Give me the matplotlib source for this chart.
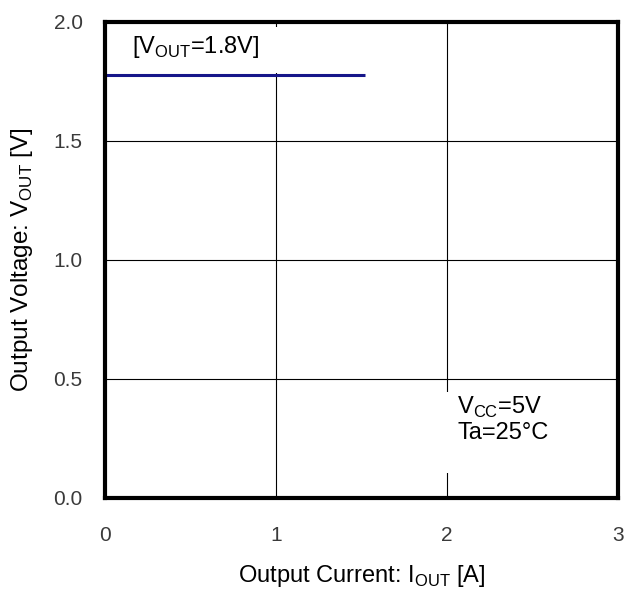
# output voltage vs output current chart

import numpy as np
import matplotlib.pyplot as plt
from matplotlib.patches import Rectangle

# data
iout = [0.0, 1.52]       # output current [A]
vout = [1.777, 1.777]    # output voltage [V]
xticks = [0, 1, 2, 3]
yticks = [0.0, 0.5, 1.0, 1.5, 2.0]
ytick_labels = ['0.0', '0.5', '1.0', '1.5', '2.0']

plt.rcParams['font.family'] = ['Liberation Sans', 'DejaVu Sans']
plt.rcParams['mathtext.fontset'] = 'custom'
plt.rcParams['mathtext.rm'] = 'Liberation Sans'

fig = plt.figure(figsize=(6.24, 5.92), dpi=100)
ax = fig.add_axes([0.168, 0.159, 0.822, 0.804])

ax.set_xlim(0, 3)
ax.set_ylim(0, 2)
ax.set_xticks(xticks)
ax.set_yticks(yticks)
ax.set_yticklabels(ytick_labels)
ax.tick_params(length=0, labelsize=15, labelcolor='#3a3a3a')
ax.tick_params(axis='x', pad=20)
ax.tick_params(axis='y', pad=16)

ax.grid(True, color='black', lw=0.8, zorder=1)
ax.set_axisbelow(True)
for sp in ax.spines.values():
    sp.set_linewidth(3)
    sp.set_zorder(5)

# white boxes behind the annotations
ax.add_patch(Rectangle((0.05, 1.785), 1.1, 0.195, facecolor='white', edgecolor='none', zorder=2))
ax.add_patch(Rectangle((1.95, 0.105), 0.75, 0.34, facecolor='white', edgecolor='none', zorder=2))

ax.plot(iout, vout, color='#16168a', lw=2.2, zorder=3, solid_capstyle='butt')

ax.text(0.158, 1.895, r'[V$_{\mathregular{OUT}}$=1.8V]', fontsize=17, va='center', zorder=4)
ax.text(2.06, 0.33, r'V$_{\mathregular{CC}}$=5V' + '\nTa=25°C', fontsize=17,
        va='center', linespacing=1.15, zorder=4)

ax.set_xlabel(r'Output Current: I$_{\mathregular{OUT}}$ [A]', fontsize=17, labelpad=13)
ax.set_ylabel(r'Output Voltage: V$_{\mathregular{OUT}}$ [V]', fontsize=17.5, labelpad=13)

fig.savefig('out.png', dpi=100)
